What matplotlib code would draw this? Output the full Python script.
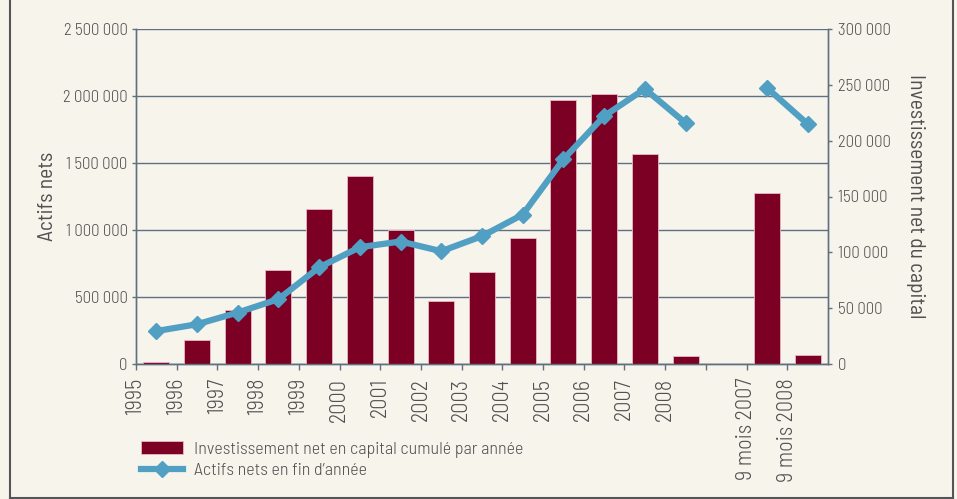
import matplotlib
matplotlib.use("Agg")
import matplotlib.pyplot as plt
import numpy as np
from matplotlib.lines import Line2D

# ---- data ----
tick_labels = ["1995", "1996", "1997", "1998", "1999", "2000", "2001", "2002",
               "2003", "2004", "2005", "2006", "2007", "2008", "",
               "9 mois 2007", "9 mois 2008"]
bar_values = [15000, 180000, 400000, 700000, 1160000, 1400000, 1000000, 470000,
              690000, 940000, 1970000, 2015000, 1565000, 62000, None,
              1276000, 67000]
line_values = [29500, 35600, 46100, 58100, 86600, 104600, 109700, 101000,
               114500, 133800, 183300, 222000, 246400, 215800, None,
               247300, 214900]
bar_label = "Investissement net en capital cumulé par année"
line_label = "Actifs nets en fin d\u2019année"
left_title = "Actifs nets"
right_title = "Investissement net du capital"
left_ticks = [0, 500000, 1000000, 1500000, 2000000, 2500000]
right_ticks = [0, 50000, 100000, 150000, 200000, 250000, 300000]

BG = "#f7f4ec"
BAR = "#7b0024"
LINE = "#519fc3"
GRID = "#5f7181"
TXT = "#505050"
FONT = ["Barlow Semi Condensed", "DejaVu Sans"]

plt.rcParams["font.family"] = FONT
plt.rcParams["font.weight"] = 300

def fmt(v):
    return f"{int(v):,}".replace(",", " ")

fig = plt.figure(figsize=(9.57, 4.99), dpi=100, facecolor=BG)
ax = fig.add_axes([136/957, 1-364/499, (828-136)/957, (364-29)/499])
ax.set_facecolor(BG)
ax2 = ax.twinx()

n = len(tick_labels)
x = np.arange(n) + 0.5
bx = [xi for xi, v in zip(x, bar_values) if v is not None]
bv = [v for v in bar_values if v is not None]
ax.bar(bx, bv, width=0.64, color=BAR, edgecolor="#e7b9c4", linewidth=0.6, zorder=3,
       label=bar_label)

lx = np.array(x, dtype=float)
lv = np.array([np.nan if v is None else v for v in line_values], dtype=float)
ax2.plot(lx, lv, color=LINE, lw=4.5, marker="D", markersize=8, zorder=4,
         label=line_label)

ax.set_xlim(0, n)
ax.set_ylim(0, 2500000)
ax2.set_ylim(0, 300000)

ax.set_yticks(left_ticks)
ax.set_yticklabels([fmt(v) for v in left_ticks], fontsize=12, color=TXT)
ax2.set_yticks(right_ticks)
ax2.set_yticklabels([fmt(v) for v in right_ticks], fontsize=12, color=TXT)

ax.set_xticks(np.arange(n))
ax.set_xticklabels(tick_labels, rotation=90, fontsize=16, color=TXT, va="top")
ax.tick_params(axis="x", length=4, width=1, color=GRID, pad=6)
ax.tick_params(axis="y", length=3, width=1, color=GRID, pad=3)
ax2.tick_params(axis="y", length=3, width=1, color=GRID, pad=4)

ax.grid(axis="y", color=GRID, lw=1, zorder=1)
ax.set_axisbelow(True)

for a in (ax, ax2):
    a.spines["top"].set_visible(False)
    for s in ("left", "right", "bottom"):
        a.spines[s].set_color(GRID)
        a.spines[s].set_linewidth(1)

ax.set_ylabel(left_title, fontsize=15.5, color=TXT, va="center", ha="center")
ax.yaxis.set_label_coords((48-136)/692, 0.5)
ax2.set_ylabel(right_title, fontsize=15.5, color=TXT, rotation=270, va="center", ha="center")
ax2.yaxis.set_label_coords((915-136)/692, 0.5)

ax2.set_zorder(ax.get_zorder() + 1)
ax2.patch.set_visible(False)

h1, l1 = ax.get_legend_handles_labels()
h2, l2 = ax2.get_legend_handles_labels()
fig.legend(h1 + h2, l1 + l2, loc="upper left",
           bbox_to_anchor=(134/957, 1-434/499), frameon=False,
           fontsize=13, labelcolor=TXT, handlelength=2.3,
           handletextpad=0.6, labelspacing=0.25, borderaxespad=0)

fc = "#555555"
fig.add_artist(Line2D([10/957, 10/957], [0, 1], transform=fig.transFigure, color=fc, lw=1.5))
fig.add_artist(Line2D([953/957, 953/957], [0, 1], transform=fig.transFigure, color=fc, lw=1.5))
fig.add_artist(Line2D([10/957, 953/957], [1/499, 1/499], transform=fig.transFigure, color=fc, lw=1.5))

fig.savefig("out.png", dpi=100, facecolor=BG)
